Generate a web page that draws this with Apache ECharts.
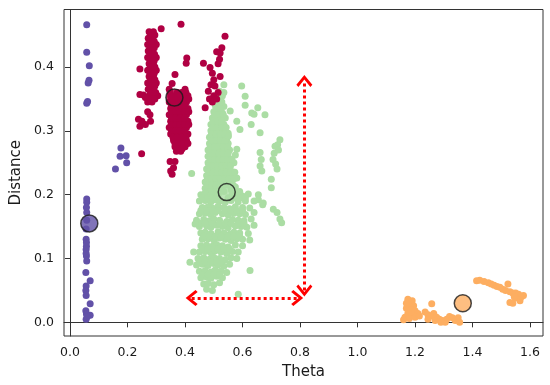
<!DOCTYPE html>
<html>
<head>
<meta charset="utf-8">
<script src="https://cdn.jsdelivr.net/npm/echarts@6/dist/echarts.min.js"></script>
<style>html,body{margin:0;padding:0;background:#fff}#c{width:550px;height:385px}</style>
</head>
<body>
<div id="c"></div>
<script>
// ---- data (theta, distance) ----
const xTicks = [0.0, 0.2, 0.4, 0.6, 0.8, 1.0, 1.2, 1.4, 1.6];
const yTicks = [0.0, 0.1, 0.2, 0.3, 0.4];

const clusterPurple = [
  [0.058,0.466],[0.058,0.423],[0.067,0.402],[0.066,0.379],[0.063,0.375],[0.058,0.343],[0.061,0.346],
  [0.177,0.273],[0.174,0.260],[0.195,0.261],[0.197,0.250],[0.158,0.240],
  [0.058,0.193],[0.058,0.188],[0.058,0.172],[0.056,0.146],[0.056,0.130],[0.057,0.119],[0.056,0.114],
  [0.057,0.104],[0.058,0.096],[0.055,0.078],[0.070,0.065],[0.056,0.057],[0.055,0.050],[0.056,0.042],
  [0.070,0.029],[0.055,0.018],[0.057,0.013],[0.070,0.011],[0.056,0.005],[0.060,0.009],
  [0.057,0.125],[0.056,0.108],[0.058,0.160],[0.057,0.180]
];

const clusterGreen = [
  // upper column
  [0.535,0.372],[0.520,0.362],[0.535,0.360],[0.510,0.350],[0.525,0.352],[0.505,0.340],[0.520,0.342],[0.535,0.338],
  [0.500,0.330],[0.515,0.332],[0.530,0.328],[0.495,0.320],[0.510,0.322],[0.525,0.318],[0.540,0.320],
  [0.490,0.310],[0.505,0.312],[0.520,0.308],[0.535,0.310],
  [0.490,0.300],[0.505,0.302],[0.520,0.298],[0.535,0.300],[0.550,0.296],
  [0.485,0.290],[0.500,0.292],[0.515,0.288],[0.530,0.290],[0.545,0.286],
  [0.485,0.280],[0.500,0.278],[0.515,0.282],[0.530,0.278],[0.550,0.280],
  [0.480,0.270],[0.495,0.272],[0.510,0.268],[0.525,0.270],[0.540,0.266],[0.555,0.270],
  [0.480,0.260],[0.495,0.258],[0.510,0.262],[0.525,0.258],[0.540,0.260],[0.560,0.256],
  [0.480,0.250],[0.495,0.248],[0.510,0.252],[0.525,0.248],[0.540,0.250],[0.555,0.246],[0.570,0.250],
  [0.475,0.240],[0.490,0.242],[0.505,0.238],[0.520,0.240],[0.535,0.236],[0.550,0.240],[0.565,0.236],
  [0.475,0.230],[0.490,0.228],[0.505,0.232],[0.520,0.228],[0.535,0.230],[0.550,0.226],[0.565,0.230],[0.580,0.226],
  [0.470,0.220],[0.485,0.218],[0.500,0.222],[0.515,0.218],[0.530,0.220],[0.545,0.216],[0.560,0.220],
  [0.470,0.210],[0.485,0.212],[0.500,0.208],[0.515,0.210],[0.530,0.212],[0.560,0.208],[0.575,0.212],
  // upper column, in-between rows
  [0.530,0.355],[0.513,0.345],[0.528,0.345],[0.508,0.335],[0.523,0.335],[0.503,0.325],[0.518,0.325],[0.533,0.325],
  [0.498,0.315],[0.513,0.315],[0.528,0.315],[0.497,0.305],[0.512,0.305],[0.528,0.305],[0.543,0.305],
  [0.492,0.295],[0.508,0.295],[0.523,0.295],[0.538,0.295],[0.492,0.285],[0.508,0.285],[0.523,0.285],[0.540,0.285],
  [0.488,0.275],[0.503,0.275],[0.518,0.275],[0.533,0.275],[0.548,0.275],[0.488,0.265],[0.503,0.265],[0.518,0.265],[0.533,0.265],[0.550,0.265],
  [0.488,0.255],[0.503,0.255],[0.518,0.255],[0.533,0.255],[0.548,0.255],[0.563,0.255],
  [0.483,0.245],[0.498,0.245],[0.513,0.245],[0.528,0.245],[0.543,0.245],[0.558,0.245],
  [0.483,0.235],[0.498,0.235],[0.513,0.235],[0.528,0.235],[0.543,0.235],[0.558,0.235],[0.573,0.235],
  [0.478,0.225],[0.493,0.225],[0.508,0.225],[0.523,0.225],[0.538,0.225],[0.553,0.225],[0.570,0.225],
  [0.478,0.215],[0.493,0.215],[0.508,0.215],[0.523,0.215],[0.545,0.215],[0.567,0.215],
  [0.475,0.205],[0.490,0.205],[0.505,0.205],[0.520,0.205],[0.535,0.205],[0.570,0.205],[0.590,0.205],
  // lower blob
  [0.455,0.200],[0.470,0.202],[0.485,0.198],[0.500,0.201],[0.515,0.199],[0.565,0.200],[0.580,0.203],[0.600,0.198],[0.620,0.201],
  [0.450,0.190],[0.470,0.191],[0.490,0.189],[0.505,0.192],[0.520,0.190],[0.540,0.188],[0.560,0.191],[0.585,0.189],[0.610,0.190],[0.655,0.192],
  [0.460,0.180],[0.480,0.181],[0.495,0.179],[0.515,0.182],[0.535,0.180],[0.555,0.178],[0.575,0.181],[0.600,0.180],[0.625,0.179],[0.670,0.184],
  [0.450,0.170],[0.470,0.171],[0.490,0.169],[0.505,0.172],[0.530,0.170],[0.550,0.168],[0.570,0.171],[0.590,0.170],[0.610,0.169],[0.640,0.172],
  [0.440,0.160],[0.465,0.161],[0.485,0.159],[0.500,0.162],[0.520,0.160],[0.545,0.158],[0.565,0.161],[0.585,0.160],[0.605,0.159],[0.630,0.162],
  [0.450,0.150],[0.475,0.151],[0.490,0.149],[0.510,0.152],[0.530,0.150],[0.550,0.148],[0.575,0.151],[0.595,0.150],[0.615,0.149],[0.640,0.152],
  [0.455,0.140],[0.470,0.141],[0.490,0.139],[0.515,0.142],[0.535,0.140],[0.555,0.138],[0.570,0.141],[0.590,0.140],[0.620,0.139],
  [0.460,0.130],[0.480,0.131],[0.500,0.129],[0.520,0.132],[0.540,0.130],[0.560,0.128],[0.580,0.131],[0.600,0.130],[0.625,0.129],
  [0.455,0.120],[0.475,0.121],[0.495,0.119],[0.510,0.122],[0.530,0.120],[0.550,0.118],[0.575,0.121],[0.600,0.120],
  [0.450,0.110],[0.470,0.111],[0.490,0.109],[0.505,0.112],[0.525,0.110],[0.545,0.108],[0.565,0.111],[0.585,0.110],
  [0.445,0.100],[0.465,0.101],[0.485,0.099],[0.500,0.102],[0.520,0.100],[0.540,0.098],[0.560,0.101],[0.580,0.100],
  [0.440,0.090],[0.460,0.091],[0.480,0.089],[0.500,0.092],[0.515,0.090],[0.535,0.088],[0.555,0.091],
  [0.450,0.080],[0.470,0.081],[0.490,0.079],[0.505,0.082],[0.525,0.080],[0.545,0.078],
  [0.455,0.070],[0.475,0.071],[0.490,0.069],[0.510,0.072],[0.530,0.070],
  [0.465,0.060],[0.480,0.061],[0.500,0.059],[0.520,0.062],
  [0.475,0.052],[0.495,0.050],
  // lower blob, some in-between rows
  [0.462,0.195],[0.478,0.195],[0.495,0.195],[0.510,0.195],[0.550,0.195],[0.572,0.195],[0.592,0.195],[0.610,0.195],
  [0.455,0.175],[0.475,0.175],[0.495,0.175],[0.515,0.175],[0.540,0.175],[0.560,0.175],[0.580,0.175],[0.600,0.175],
  [0.455,0.155],[0.470,0.155],[0.495,0.155],[0.520,0.155],[0.540,0.155],[0.560,0.155],[0.585,0.155],[0.605,0.155],
  [0.465,0.135],[0.485,0.135],[0.505,0.135],[0.525,0.135],[0.550,0.135],[0.570,0.135],[0.590,0.135],
  [0.460,0.115],[0.480,0.115],[0.500,0.115],[0.515,0.115],[0.535,0.115],[0.555,0.115],
  [0.450,0.095],[0.470,0.095],[0.490,0.095],[0.510,0.095],[0.525,0.095],
  [0.460,0.075],[0.480,0.075],[0.500,0.075],[0.520,0.075],
  // outliers and right-hand scatter
  [0.417,0.094],[0.435,0.154],[0.626,0.081],[0.585,0.044],[0.430,0.110],
  [0.597,0.370],[0.609,0.354],[0.609,0.340],[0.557,0.331],[0.580,0.315],[0.632,0.328],[0.640,0.326],[0.653,0.336],
  [0.678,0.325],[0.630,0.310],[0.661,0.297],[0.591,0.302],[0.551,0.292],
  [0.730,0.286],[0.722,0.278],[0.713,0.276],[0.710,0.265],[0.706,0.255],[0.715,0.248],[0.720,0.240],[0.725,0.270],[0.700,0.224],
  [0.661,0.266],[0.665,0.255],[0.661,0.245],[0.667,0.237],[0.580,0.271],[0.575,0.262],
  [0.423,0.233],[0.700,0.211],[0.672,0.187],[0.707,0.177],[0.720,0.172],[0.736,0.156],[0.730,0.162],[0.640,0.190],[0.655,0.200]
];

const clusterCrimson = [
  [0.275,0.455],[0.290,0.455],[0.272,0.445],[0.288,0.445],[0.270,0.435],[0.285,0.435],[0.300,0.435],
  [0.272,0.425],[0.288,0.425],[0.270,0.415],[0.285,0.415],[0.300,0.415],[0.275,0.405],[0.290,0.405],
  [0.270,0.395],[0.285,0.395],[0.300,0.395],[0.275,0.385],[0.290,0.385],[0.270,0.375],[0.285,0.375],[0.300,0.375],
  [0.272,0.365],[0.290,0.365],[0.275,0.355],[0.290,0.355],[0.305,0.355],[0.270,0.345],[0.285,0.345],
  [0.280,0.450],[0.295,0.450],[0.278,0.440],[0.293,0.440],[0.278,0.430],[0.293,0.430],[0.278,0.420],[0.294,0.420],
  [0.278,0.410],[0.293,0.410],[0.280,0.400],[0.295,0.400],[0.278,0.390],[0.293,0.390],[0.280,0.380],[0.295,0.380],
  [0.278,0.370],[0.295,0.370],[0.280,0.360],[0.298,0.360],[0.280,0.350],[0.295,0.350],
  [0.317,0.460],[0.386,0.467],[0.243,0.397],[0.243,0.357],[0.255,0.356],[0.262,0.352],[0.238,0.318],
  [0.243,0.307],[0.250,0.315],[0.262,0.310],[0.278,0.325],[0.280,0.315],[0.270,0.330],[0.249,0.264],
  [0.345,0.365],[0.400,0.365],[0.350,0.355],[0.365,0.355],[0.380,0.355],[0.395,0.355],[0.410,0.355],
  [0.345,0.345],[0.360,0.345],[0.375,0.345],[0.390,0.345],[0.405,0.345],
  [0.350,0.335],[0.365,0.335],[0.380,0.335],[0.395,0.335],[0.410,0.335],
  [0.345,0.325],[0.360,0.325],[0.375,0.325],[0.390,0.325],[0.405,0.325],
  [0.350,0.315],[0.365,0.315],[0.380,0.315],[0.395,0.315],[0.410,0.315],
  [0.345,0.305],[0.360,0.305],[0.375,0.305],[0.390,0.305],[0.405,0.305],
  [0.350,0.295],[0.365,0.295],[0.380,0.295],[0.395,0.295],[0.410,0.295],
  [0.360,0.285],[0.375,0.285],[0.390,0.285],[0.405,0.285],[0.365,0.275],[0.380,0.275],[0.400,0.275],
  [0.370,0.268],[0.385,0.268],
  [0.348,0.360],[0.373,0.360],[0.388,0.360],[0.403,0.360],[0.353,0.350],[0.368,0.350],[0.383,0.350],[0.398,0.350],[0.413,0.350],
  [0.353,0.340],[0.368,0.340],[0.383,0.340],[0.398,0.340],[0.353,0.330],[0.368,0.330],[0.383,0.330],[0.398,0.330],[0.413,0.330],
  [0.353,0.320],[0.368,0.320],[0.383,0.320],[0.398,0.320],[0.353,0.310],[0.368,0.310],[0.383,0.310],[0.398,0.310],[0.413,0.310],
  [0.353,0.300],[0.368,0.300],[0.383,0.300],[0.398,0.300],[0.358,0.290],[0.373,0.290],[0.388,0.290],[0.403,0.290],
  [0.365,0.280],[0.380,0.280],[0.395,0.280],[0.410,0.280],[0.375,0.272],[0.390,0.272],
  [0.365,0.252],[0.348,0.252],[0.350,0.237],[0.355,0.232],[0.360,0.242],
  [0.365,0.388],[0.355,0.374],[0.406,0.414],[0.404,0.406],
  [0.539,0.448],[0.528,0.430],[0.510,0.424],[0.522,0.422],[0.520,0.412],[0.515,0.405],[0.464,0.406],
  [0.487,0.399],[0.495,0.390],[0.500,0.380],[0.504,0.370],[0.522,0.385],[0.490,0.372],[0.481,0.362],
  [0.500,0.355],[0.515,0.360],[0.470,0.336],[0.485,0.350],[0.495,0.345],[0.510,0.350]
];

const clusterOrange = [
  [1.175,0.036],[1.190,0.034],[1.180,0.028],[1.195,0.026],[1.170,0.022],[1.185,0.020],[1.200,0.018],[1.210,0.014],
  [1.175,0.014],[1.190,0.012],[1.165,0.008],[1.180,0.006],[1.160,0.004],[1.200,0.008],[1.215,0.010],[1.170,0.030],
  [1.258,0.029],[1.235,0.016],[1.245,0.012],[1.255,0.010],[1.265,0.014],[1.275,0.008],[1.285,0.005],[1.295,0.003],
  [1.310,0.005],[1.320,0.009],[1.330,0.007],[1.340,0.003],[1.350,0.007],[1.355,0.000],[1.290,0.000],[1.305,0.000],
  [1.270,0.003],[1.245,0.005],
  [1.414,0.065],[1.425,0.066],[1.440,0.064],[1.455,0.062],[1.465,0.060],[1.475,0.058],[1.485,0.056],[1.495,0.055],
  [1.505,0.052],[1.515,0.050],[1.523,0.060],[1.530,0.048],[1.540,0.046],[1.550,0.046],[1.560,0.044],[1.570,0.040],
  [1.577,0.042],[1.565,0.034],[1.550,0.038],[1.530,0.031],[1.540,0.030],[1.545,0.040]
];

const centroidNames = ['purple', 'crimson', 'green', 'orange'];
const centroids = [[0.067,0.155],[0.363,0.352],[0.545,0.204],[1.366,0.030]];

// arrow endpoints [from, to]
const arrowVertical = [[0.815,0.050],[0.815,0.378]];
const arrowHorizontal = [[0.423,0.038],[0.790,0.038]];

const colors = { purple:'#6251a8', crimson:'#b00043', green:'#abdda4', orange:'#fdae61' };
const FONT = 'DejaVu Sans';

const chart = echarts.init(document.getElementById('c'), null, {renderer:'canvas'});
const chevron = 'path://M8,0 L16,10 L14,12.2 L8,4.6 L2,12.2 L0,10 Z';

function pts(name, data) {
  return {
    type:'scatter', name, data, symbolSize:7,
    itemStyle:{ color: colors[name], opacity:1 },
    silent:true, z:2
  };
}

chart.setOption({
  animation:false,
  grid:{ left:64, right:7, top:9.5, bottom:48, show:true, borderColor:'#333', borderWidth:1, backgroundColor:'transparent' },
  xAxis:{
    type:'value', min:-0.021, max:1.645,
    name:'Theta', nameLocation:'middle', nameGap:29,
    nameTextStyle:{ fontFamily:FONT, fontSize:15, color:'#1a1a1a' },
    axisLine:{ show:true, lineStyle:{ color:'#333' } },
    axisTick:{ show:true, length:5, inside:false, lineStyle:{ color:'#333' }, customValues:xTicks },
    axisLabel:{ customValues:xTicks, formatter:v=>v.toFixed(1), fontFamily:FONT, fontSize:12.5, color:'#1a1a1a', margin:10 },
    splitLine:{ show:false }
  },
  yAxis:{
    type:'value', min:-0.0214, max:0.490,
    name:'Distance', nameLocation:'middle', nameGap:38,
    nameTextStyle:{ fontFamily:FONT, fontSize:15, color:'#1a1a1a' },
    axisLine:{ show:true, lineStyle:{ color:'#333' } },
    axisTick:{ show:true, length:5, lineStyle:{ color:'#333' }, customValues:yTicks },
    axisLabel:{ customValues:yTicks, formatter:v=>v.toFixed(1), fontFamily:FONT, fontSize:12.5, color:'#1a1a1a', margin:10 },
    splitLine:{ show:false }
  },
  series:[
    pts('purple', clusterPurple),
    pts('green', clusterGreen),
    pts('crimson', clusterCrimson),
    pts('orange', clusterOrange),
    {
      type:'scatter', name:'centroids',
      data: centroids.map((c,i)=>({ value:c, itemStyle:{ color: colors[centroidNames[i]] } })),
      symbolSize:17,
      itemStyle:{ borderColor:'#1a1a1a', borderWidth:1.5 },
      z:5, silent:true
    },
    {
      type:'scatter', data:[], z:4, silent:true,
      markLine:{
        silent:true, animation:false,
        symbol:[chevron, chevron], symbolSize:[16,12],
        label:{ show:false },
        lineStyle:{ color:'#ff0000', width:3, type:[3,3], opacity:1 },
        itemStyle:{ color:'#ff0000' },
        data:[
          [ { coord: arrowVertical[0] }, { coord: arrowVertical[1] } ],
          [ { coord: arrowHorizontal[0] }, { coord: arrowHorizontal[1] } ]
        ]
      }
    }
  ]
});
</script>
</body>
</html>
